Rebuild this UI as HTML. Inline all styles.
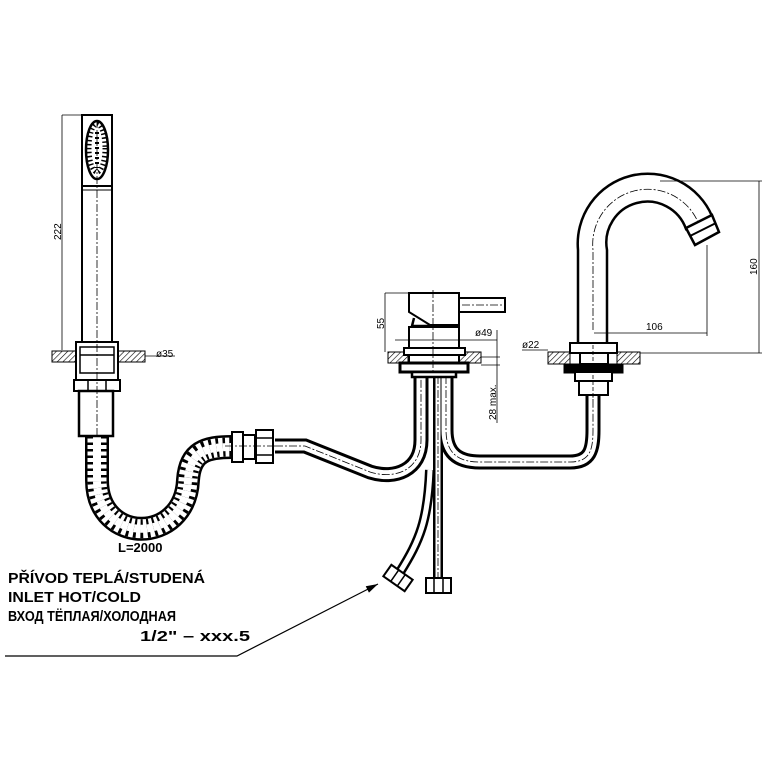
<!DOCTYPE html>
<html><head><meta charset="utf-8"><style>
html,body{margin:0;padding:0;background:#fff;}
svg{display:block;}
text{font-family:"Liberation Sans","DejaVu Sans",sans-serif;fill:#000;}
</style></head><body>
<svg width="768" height="768" viewBox="0 0 768 768" xmlns="http://www.w3.org/2000/svg">
<defs>
<pattern id="h" width="4" height="4" patternUnits="userSpaceOnUse" patternTransform="rotate(45)">
<rect width="4" height="4" fill="#fff"/><line x1="0" y1="0" x2="0" y2="4" stroke="#000" stroke-width="1.2"/></pattern>
<marker id="ar" markerWidth="10" markerHeight="6" refX="10" refY="3" orient="auto"><path d="M0,0 L10,3 L0,6z" fill="#000"/></marker>
</defs>
<g fill="none" stroke="#000">
<g>
<path d="M275,446 L305,446 L370,472 C395,480 421,470 421,440 L421,376" stroke-width="15"/>
<path d="M446,376 L446,430 C446,455 460,462 480,462 L570,462 C590,462 593,450 593,430 L593,395" stroke-width="15"/>
<path d="M438,376 L438,578" stroke-width="10"/>
<path d="M430,470 C428,520 420,540 400,572" stroke-width="10"/>
</g>
<g stroke="#fff">
<path d="M275,446 L305,446 L370,472 C395,480 421,470 421,440 L421,376" stroke-width="9"/>
<path d="M446,376 L446,430 C446,455 460,462 480,462 L570,462 C590,462 593,450 593,430 L593,395" stroke-width="9"/>
<path d="M438,376 L438,578" stroke-width="5"/>
<path d="M430,470 C428,520 420,540 400,572" stroke-width="5"/>
</g>
<g stroke-width="0.8" stroke-dasharray="8,2,2,2">
<path d="M275,446 L305,446 L370,472 C395,480 421,470 421,440 L421,376"/>
<path d="M446,376 L446,430 C446,455 460,462 480,462 L570,462 C590,462 593,450 593,430 L593,395"/>
<path d="M438,376 L438,578"/>
</g>
<!-- hose -->
<path d="M97,436 L97,480 C97,545 185,545 188,480 C190,452 205,447 232,447" stroke-width="24"/>
<path d="M97,436 L97,480 C97,545 185,545 188,480 C190,452 205,447 232,447" stroke="#fff" stroke-width="19"/>
<path d="M97,436 L97,480 C97,545 185,545 188,480 C190,452 205,447 232,447" stroke-width="19" stroke-dasharray="2.5,4"/>
<path d="M97,436 L97,480 C97,545 185,545 188,480 C190,452 205,447 232,447" stroke-width="8" stroke="#fff" stroke-dasharray="3,3.5"/>
<g stroke-width="2" fill="#fff">
<rect x="232" y="432" width="11" height="30"/>
<rect x="243" y="435" width="12" height="24"/>
<rect x="256" y="430" width="17" height="33"/>
</g>
<line x1="256" y1="438" x2="273" y2="438" stroke-width="1.5"/><line x1="256" y1="455" x2="273" y2="455" stroke-width="1.5"/>
<line x1="225" y1="446" x2="275" y2="446" stroke-width="0.8" stroke-dasharray="8,2,2,2"/>

<!-- hand shower -->
<rect x="82" y="115" width="30" height="230" stroke-width="2"/>
<ellipse cx="97" cy="150" rx="11" ry="29" stroke-width="2.5"/>
<ellipse cx="97" cy="148" rx="8" ry="24" stroke-width="5" stroke-dasharray="1.5,2.5"/>
<line x1="97" y1="132" x2="97" y2="168" stroke-width="4" stroke-dasharray="2,3"/>
<line x1="82" y1="186" x2="112" y2="186" stroke-width="2"/>
<line x1="82" y1="190" x2="112" y2="190" stroke-width="1"/>
<rect x="52" y="351" width="36" height="11" fill="url(#h)" stroke-width="1"/>
<rect x="113" y="351" width="32" height="11" fill="url(#h)" stroke-width="1"/>
<rect x="76" y="342" width="42" height="38" stroke-width="2" fill="#fff"/>
<rect x="80" y="347" width="34" height="26" stroke-width="1.5" fill="#fff"/>
<line x1="80" y1="355" x2="114" y2="355" stroke-width="1.5"/>
<rect x="74" y="380" width="46" height="11" stroke-width="2" fill="#fff"/>
<line x1="88" y1="380" x2="88" y2="391" stroke-width="1.5"/><line x1="106" y1="380" x2="106" y2="391" stroke-width="1.5"/>
<rect x="79" y="391" width="34" height="45" stroke-width="2.5" fill="#fff"/>
<line x1="97" y1="120" x2="97" y2="435" stroke-width="0.8" stroke-dasharray="8,2,2,2"/>
<line x1="62" y1="115" x2="82" y2="115" stroke-width="0.8"/>
<line x1="62" y1="115" x2="62" y2="350" stroke-width="0.8"/>
<line x1="145" y1="356" x2="175" y2="356" stroke-width="0.8"/>

<!-- mixer -->
<rect x="388" y="352" width="20" height="11" fill="url(#h)" stroke-width="1"/>
<rect x="459" y="352" width="22" height="11" fill="url(#h)" stroke-width="1"/>
<path d="M409,293 L459,293 L459,325 L430,325 L409,312 Z" stroke-width="2" fill="#fff"/>
<path d="M414,318 L412,326 L430,326" stroke-width="2.5"/>
<rect x="459" y="298" width="46" height="14" stroke-width="2" fill="#fff"/>
<rect x="409" y="327" width="50" height="22" stroke-width="2" fill="#fff"/>
<rect x="404" y="348" width="61" height="7" stroke-width="2" fill="#fff"/>
<rect x="409" y="355" width="50" height="8" stroke-width="2" fill="#fff"/>
<rect x="400" y="363" width="68" height="9" stroke-width="3" fill="#fff"/>
<rect x="412" y="372" width="44" height="5" stroke-width="2.5" fill="#fff"/>
<line x1="433" y1="290" x2="433" y2="372" stroke-width="0.8" stroke-dasharray="8,2,2,2"/>
<line x1="462" y1="305" x2="505" y2="305" stroke-width="0.8" stroke-dasharray="8,2,2,2"/>
<line x1="385" y1="293" x2="409" y2="293" stroke-width="0.8"/>
<line x1="385" y1="293" x2="385" y2="352" stroke-width="0.8"/>
<line x1="395" y1="340" x2="497" y2="340" stroke-width="0.8"/>
<line x1="497" y1="330" x2="497" y2="423" stroke-width="0.8"/>
<line x1="481" y1="357" x2="500" y2="357" stroke-width="0.8"/>
<line x1="481" y1="365" x2="500" y2="365" stroke-width="0.8"/>
<rect x="426" y="578" width="25" height="15" stroke-width="2" fill="#fff"/>
<line x1="434" y1="578" x2="434" y2="593" stroke-width="1.5"/><line x1="443" y1="578" x2="443" y2="593" stroke-width="1.5"/>
<g transform="translate(398,578) rotate(35)">
<rect x="-13" y="-7" width="26" height="14" stroke-width="2" fill="#fff"/>
<line x1="-4" y1="-7" x2="-4" y2="7" stroke-width="1.5"/><line x1="4" y1="-7" x2="4" y2="7" stroke-width="1.5"/>
</g>

<!-- spout -->
<rect x="548" y="352" width="22" height="12" fill="url(#h)" stroke-width="1"/>
<rect x="617" y="352" width="23" height="12" fill="url(#h)" stroke-width="1"/>
<path d="M578,343 L578,250 A70,70 0 0 1 712,216 L686,229 A41,41 0 0 0 607,250 L607,343" stroke-width="2.5" fill="#fff"/>
<path d="M593,330 L593,250 A55,55 0 0 1 698,222" stroke-width="0.8" stroke-dasharray="8,2,2,2"/>
<path d="M686,228 L712,215 L719,232 L695,245 Z" stroke-width="2.5" fill="#fff"/>
<line x1="690" y1="236" x2="716" y2="223" stroke-width="2"/>
<rect x="570" y="343" width="47" height="10" stroke-width="2" fill="#fff"/>
<rect x="580" y="353" width="28" height="11" stroke-width="2" fill="#fff"/>
<rect x="565" y="365" width="57" height="7" stroke-width="3" fill="#000"/>
<rect x="575" y="372" width="37" height="9" stroke-width="2" fill="#fff"/>
<rect x="579" y="381" width="29" height="14" stroke-width="2" fill="#fff"/>
<line x1="593" y1="345" x2="593" y2="400" stroke-width="0.8" stroke-dasharray="4,2"/>
<line x1="707" y1="245" x2="707" y2="336" stroke-width="0.8"/>
<line x1="594" y1="333" x2="707" y2="333" stroke-width="0.8"/>
<line x1="660" y1="181" x2="762" y2="181" stroke-width="0.8"/>
<line x1="640" y1="353" x2="762" y2="353" stroke-width="0.8"/>
<line x1="759" y1="181" x2="759" y2="353" stroke-width="0.8"/>
<line x1="522" y1="350" x2="548" y2="350" stroke-width="0.8"/>
<path d="M5,656 L237,656 L378,584" stroke-width="1.2" marker-end="url(#ar)"/>
</g>
<text x="0" y="0" font-size="10" transform="translate(61,240) rotate(-90)">222</text>
<text x="156" y="357" font-size="10">ø35</text>
<text x="118" y="552" font-size="13" font-weight="bold">L=2000</text>
<text x="0" y="0" font-size="10" transform="translate(384,329) rotate(-90)">55</text>
<text x="475" y="336" font-size="10">ø49</text>
<text x="0" y="0" font-size="10" transform="translate(496,420) rotate(-90)">28 max.</text>
<text x="522" y="348" font-size="10">ø22</text>
<text x="646" y="330" font-size="10">106</text>
<text x="0" y="0" font-size="10" transform="translate(757,275) rotate(-90)">160</text>
<text x="8" y="583" font-size="14.5" font-weight="bold" textLength="197" lengthAdjust="spacingAndGlyphs">PŘÍVOD TEPLÁ/STUDENÁ</text>
<text x="8" y="602" font-size="14.5" font-weight="bold" textLength="133" lengthAdjust="spacingAndGlyphs">INLET HOT/COLD</text>
<text x="8" y="621" font-size="14.5" font-weight="bold" textLength="168" lengthAdjust="spacingAndGlyphs">ВХОД ТЁПЛАЯ/ХОЛОДНАЯ</text>
<text x="140" y="641" font-size="14.5" font-weight="bold" textLength="110" lengthAdjust="spacingAndGlyphs">1/2"  –  xxx.5</text>
</svg>
</body></html>
